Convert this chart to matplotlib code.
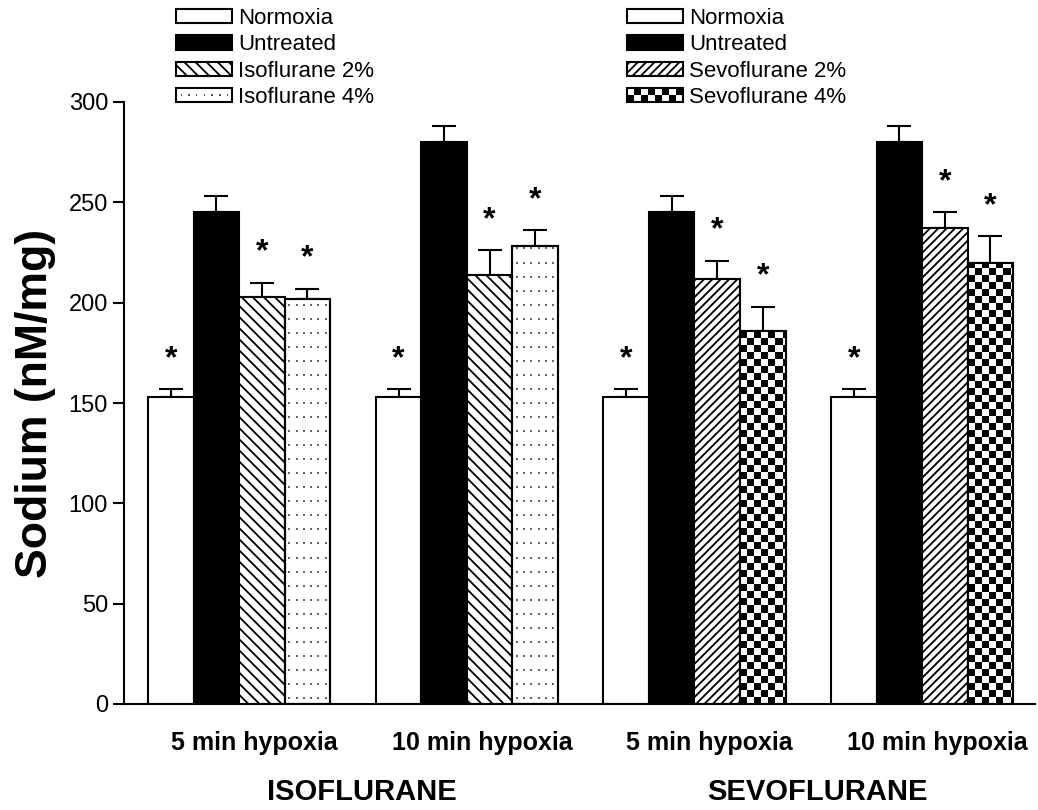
import numpy as np
import matplotlib
matplotlib.use("Agg")
import matplotlib.pyplot as plt
from matplotlib.patches import Rectangle, Patch
from matplotlib.legend_handler import HandlerBase

plt.rcParams['font.family'] = ['Liberation Sans', 'DejaVu Sans']
plt.rcParams['hatch.linewidth'] = 1.3

# data
groups = ["5 min hypoxia", "10 min hypoxia", "5 min hypoxia", "10 min hypoxia"]
anesthetics = ["ISOFLURANE", "SEVOFLURANE"]
normoxia = [153, 153, 153, 153]
normoxia_err = [4, 4, 4, 4]
untreated = [245, 280, 245, 280]
untreated_err = [8, 8, 8, 8]
dose2 = [203, 214, 212, 237]
dose2_err = [7, 12, 9, 8]
dose4 = [202, 228, 186, 220]
dose4_err = [5, 8, 12, 13]
# which bars carry a significance star (all but untreated)
starred = [True, False, True, True]


class CheckerHandler(HandlerBase):
    def create_artists(self, legend, orig_handle, xdescent, ydescent,
                       width, height, fontsize, trans):
        x0, y0 = -xdescent, -ydescent
        arts = [Rectangle((x0, y0), width, height, facecolor='white',
                          edgecolor='none', transform=trans)]
        nx, ny = 8, 2
        cw, ch = width / nx, height / ny
        for i in range(nx):
            for j in range(ny):
                if (i + j) % 2 == 0:
                    arts.append(Rectangle((x0 + i * cw, y0 + j * ch), cw, ch,
                                          facecolor='black', edgecolor='none',
                                          transform=trans))
        arts.append(Rectangle((x0, y0), width, height, fill=False,
                              edgecolor='black', lw=1.5, transform=trans))
        return arts


class DotHandler(HandlerBase):
    def create_artists(self, legend, orig_handle, xdescent, ydescent,
                       width, height, fontsize, trans):
        x0, y0 = -xdescent, -ydescent
        arts = [Rectangle((x0, y0), width, height, facecolor='white',
                          edgecolor='black', lw=1.5, transform=trans)]
        for i in range(7):
            arts.append(Rectangle((x0 + (i + 0.6) * width / 7.2, y0 + height * 0.45),
                                  1.0, 1.0, facecolor='#555555', edgecolor='none',
                                  transform=trans))
        return arts


fig = plt.figure(figsize=(10.38, 8.10), dpi=100)
ax = fig.add_axes([124 / 1038, 106 / 810, (1035 - 124) / 1038, 602 / 810])

series = [normoxia, untreated, dose2, dose4]
errs = [normoxia_err, untreated_err, dose2_err, dose4_err]
group_x = np.arange(len(groups)) * 5

for k in range(4):
    xs = group_x + k + 0.5
    for g in range(len(groups)):
        iso = g < 2
        face = 'black' if k == 1 else 'white'
        hatch = None
        if k == 2:
            hatch = '\\\\\\' if iso else '////'
        bar = ax.bar(xs[g], series[k][g], width=1, color=face, edgecolor='black',
                     linewidth=1.5, hatch=hatch, zorder=2)[0]
        x0 = xs[g] - 0.5
        if k == 3 and iso:
            # sparse dot fill
            dx, dy = 0.16, 7.0
            px, py = np.meshgrid(np.arange(x0 + 0.1, x0 + 1, dx),
                                 np.arange(3, series[k][g], dy))
            dots = ax.scatter(px.ravel(), py.ravel(), s=2.2, c='#666666',
                              marker='s', linewidths=0, zorder=2.2)
            dots.set_clip_path(bar)
        if k == 3 and not iso:
            # checkerboard fill
            cw, chh = 0.154, 3.5
            nx = int(np.ceil(1 / cw))
            ny = int(np.ceil(series[k][g] / chh))
            board = (np.add.outer(np.arange(ny), np.arange(nx)) % 2)
            im = ax.imshow(board, cmap='gray', interpolation='nearest',
                           aspect='auto', origin='lower', zorder=2.2,
                           extent=[x0, x0 + nx * cw, 0, ny * chh])
            im.set_clip_path(bar)
        if k == 3:
            ax.bar(xs[g], series[k][g], width=1, color='none', edgecolor='black',
                   linewidth=1.5, zorder=2.4)
    ax.errorbar(xs, series[k], yerr=[np.zeros(4), errs[k]], fmt='none',
                ecolor='black', elinewidth=1.5, capsize=8.5, capthick=1.5,
                zorder=1)
    if starred[k]:
        for g in range(len(groups)):
            ax.text(xs[g], series[k][g] + errs[k][g] + 11, '*', ha='center',
                    va='baseline', fontsize=23, fontweight='bold')

ax.set_xlim(-0.53, 19.48)
ax.set_ylim(0, 300)
ax.set_yticks(np.arange(0, 301, 50))
ax.set_xticks([])
for s in ['top', 'right']:
    ax.spines[s].set_visible(False)
for s in ['left', 'bottom']:
    ax.spines[s].set_linewidth(1.5)
ax.tick_params(axis='y', direction='out', length=8, width=1.5, pad=3.5,
               labelsize=17)
ax.set_ylabel('Sodium (nM/mg)', fontsize=32, fontweight='bold', labelpad=9)

for g, name in enumerate(groups):
    ax.text(group_x[g] + 2 + 0.33, -0.077, name, transform=ax.get_xaxis_transform(),
            ha='center', va='baseline', fontsize=18, fontweight='bold')
for a, name in enumerate(anesthetics):
    ax.text(group_x[2 * a] + 4.5 + 0.2, -0.16, name,
            transform=ax.get_xaxis_transform(), ha='center', va='baseline',
            fontsize=21, fontweight='bold')

common = dict(frameon=False, fontsize=16, handlelength=2.5, handleheight=0.6,
              handletextpad=0.3, labelspacing=0.24, borderpad=0,
              borderaxespad=0, loc='upper left')
h_norm = Patch(facecolor='white', edgecolor='black', lw=1.5)
h_untr = Patch(facecolor='black', edgecolor='black', lw=1.5)
h_iso2 = Patch(facecolor='white', edgecolor='black', lw=1.5, hatch='\\\\\\')
h_iso4 = Patch(facecolor='white', edgecolor='black', lw=1.5)
h_sev2 = Patch(facecolor='white', edgecolor='black', lw=1.5, hatch='////')
h_sev4 = Patch(facecolor='white', edgecolor='black', lw=1.5)

leg1 = fig.legend([h_norm, h_untr, h_iso2, h_iso4],
                  ['Normoxia', 'Untreated', 'Isoflurane 2%', 'Isoflurane 4%'],
                  bbox_to_anchor=(176 / 1038, 1 - 8 / 810),
                  handler_map={h_iso4: DotHandler()}, **common)
leg2 = fig.legend([h_norm, h_untr, h_sev2, h_sev4],
                  ['Normoxia', 'Untreated', 'Sevoflurane 2%', 'Sevoflurane 4%'],
                  bbox_to_anchor=(627 / 1038, 1 - 8 / 810),
                  handler_map={h_sev4: CheckerHandler()}, **common)

fig.savefig('out.png', dpi=100)
